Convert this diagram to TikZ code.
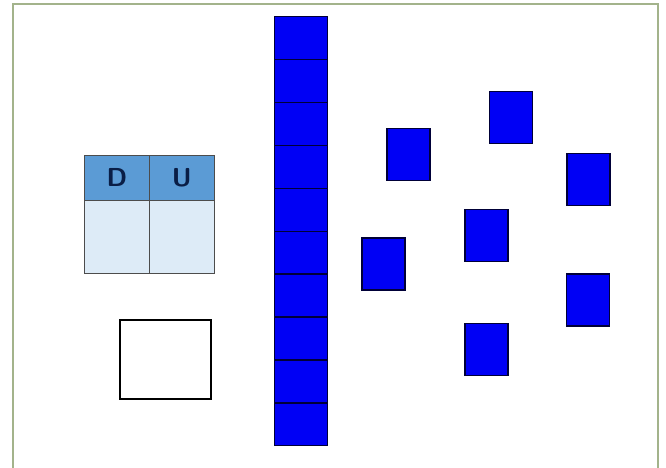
\documentclass[tikz,border=0pt]{standalone}
\usepackage{tikz}
\usetikzlibrary{positioning}
\definecolor{unitblue}{HTML}{0000F5}
\definecolor{unitedge}{HTML}{000038}
\definecolor{headblue}{HTML}{5B9BD5}
\definecolor{bodyblue}{HTML}{DDEBF7}
\definecolor{framegreen}{HTML}{A3B38B}
\definecolor{letterblue}{HTML}{0A1E46}
\tikzstyle{unit}=[draw=unitedge,fill=unitblue,rectangle,line width=1.4pt,inner sep=0pt]
\tikzstyle{cube}=[unit,minimum width=43pt,minimum height=52pt]
\tikzstyle{rod}=[unit,minimum width=53pt,minimum height=42.9pt,anchor=north west]
\tikzstyle{headcell}=[draw=black!70,fill=headblue,rectangle,line width=0.8pt,inner sep=0pt,
  minimum width=65pt,minimum height=45pt,anchor=north west,text=letterblue,
  font=\fontsize{26}{26}\selectfont\sffamily]
\tikzstyle{bodycell}=[draw=black!70,fill=bodyblue,rectangle,line width=0.8pt,inner sep=0pt,
  minimum width=65pt,minimum height=73pt,anchor=north west]
\begin{document}
\begin{tikzpicture}[x=1pt,y=-1pt]
    \useasboundingbox (0,0) rectangle (666,468);
    \fill[white] (0,0) rectangle (666,468);
    \draw[framegreen,line width=2pt] (13,474) -- (13,4) -- (658,4) -- (658,474);
    % place value table
    \node[headcell] (D) at (84,155) {\textbf{D}};
    \node[headcell] (U) at (149,155) {\textbf{U}};
    \node[bodycell] (Dv) at (84,200) {};
    \node[bodycell] (Uv) at (149,200) {};
    % answer box
    \node[draw=black,line width=1.5pt,rectangle,minimum width=91pt,minimum height=79pt,
      inner sep=0pt,anchor=north west] (answer) at (119,319) {};
    % ten rod
    \foreach \i in {0,...,9}
        \node[rod] (r\i) at (274,16+42.9*\i) {};
    % loose units
    \node[cube] (u1) at (408.5,154.5) {};
    \node[cube] (u2) at (511,117.5) {};
    \node[cube] (u3) at (588.5,179.5) {};
    \node[cube] (u4) at (486.5,235.5) {};
    \node[cube] (u5) at (383.5,264) {};
    \node[cube] (u6) at (588,300) {};
    \node[cube] (u7) at (486.5,349.5) {};
\end{tikzpicture}
\end{document}
